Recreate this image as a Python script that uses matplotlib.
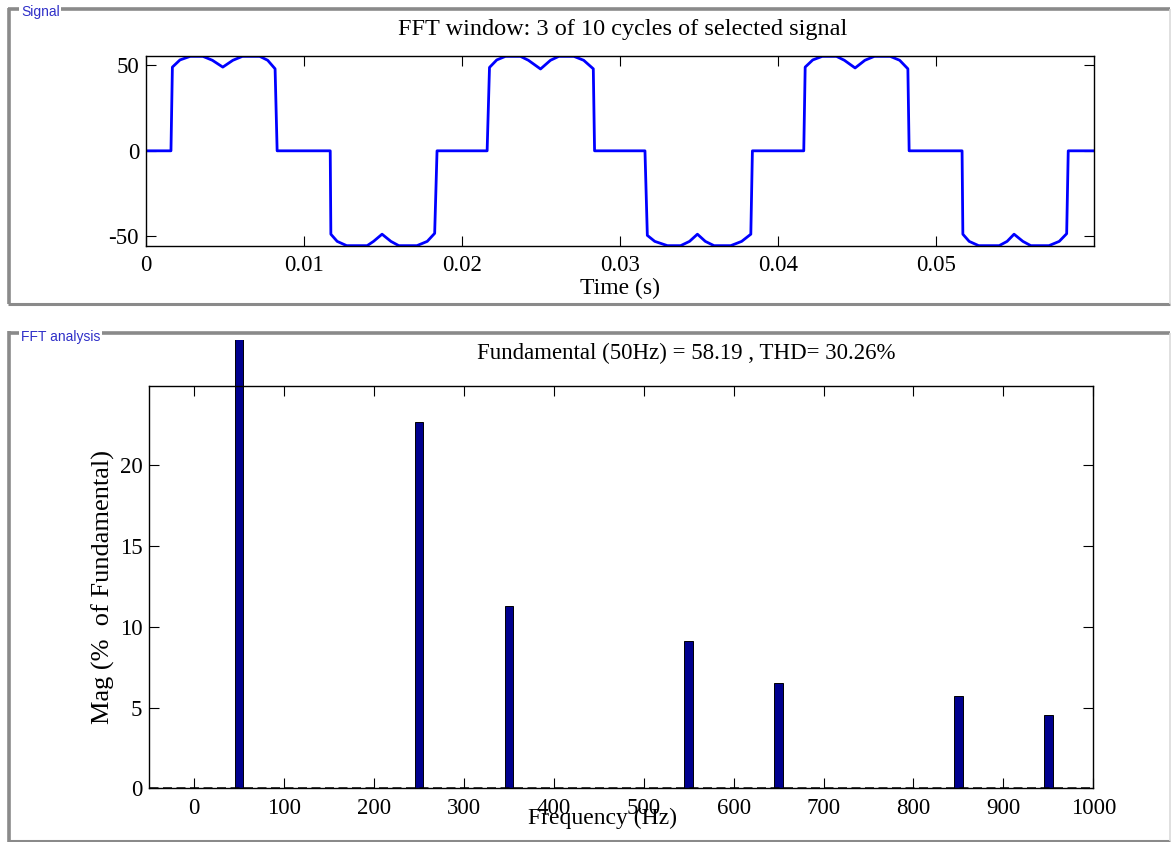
import numpy as np
import matplotlib.pyplot as plt
from matplotlib.lines import Line2D
from matplotlib.transforms import Bbox, TransformedBbox

plt.rcParams['font.family'] = ['Liberation Serif', 'DejaVu Serif']
plt.rcParams['axes.unicode_minus'] = False

# Signal: 3 cycles of the selected signal (s, V)
time_s = [
    0.0, 0.00158, 0.00167, 0.00215, 0.0028, 0.0036, 0.0042, 0.00486, 0.0055, 0.0061, 0.0072, 0.0077, 0.00817, 0.0083,
    0.01166, 0.0117, 0.0121, 0.0127, 0.0140, 0.0144, 0.01494, 0.0155, 0.0160, 0.01715, 0.0178, 0.01827, 0.01842,
    0.02159, 0.02174, 0.0222, 0.02275, 0.0237, 0.0242, 0.02497, 0.0256, 0.02613, 0.02708, 0.0277, 0.02831, 0.02839,
    0.03158, 0.03173, 0.0322, 0.0330, 0.03384, 0.0344, 0.0349, 0.0354, 0.03595, 0.03701, 0.0377, 0.03828, 0.03838,
    0.04163, 0.04172, 0.0422, 0.0428, 0.0437, 0.0442, 0.04488, 0.0455, 0.0461, 0.0471, 0.0477, 0.04822, 0.0483,
    0.05165, 0.0517, 0.0521, 0.0527, 0.0540, 0.0545, 0.05494, 0.0555, 0.0560, 0.05715, 0.0578, 0.05827, 0.05837,
    0.06,
]
signal_v = [
    0, 0, 49, 53.2, 55.3, 55.3, 53, 49, 53, 55.3, 55.3, 53, 48, 0,
    0, -48.8, -53, -55.5, -55.5, -53, -48.8, -53, -55.5, -55.5, -53, -48.3, 0,
    0, 48.8, 53.2, 55.3, 55.3, 53, 47.9, 53, 55.3, 55.3, 53, 48, 0,
    0, -49.5, -53, -55.5, -55.5, -53, -48.8, -53, -55.5, -55.5, -53, -48.8, 0,
    0, 49, 53.2, 55.3, 55.3, 53, 48.5, 53, 55.3, 55.3, 53, 48, 0,
    0, -48.8, -53, -55.5, -55.5, -53, -48.8, -53, -55.5, -55.5, -53, -48.5, 0,
    0,
]

# FFT analysis: harmonic magnitudes (% of fundamental)
harm_freq = [50, 250, 350, 550, 650, 850, 950]
harm_mag = [100, 22.7, 11.3, 9.1, 6.5, 5.7, 4.55]

sig_ticks = [0, 0.01, 0.02, 0.03, 0.04, 0.05]
freq_ticks = [0, 100, 200, 300, 400, 500, 600, 700, 800, 900, 1000]
mag_ticks = [0, 5, 10, 15, 20]

W, H = 1171, 842
fig = plt.figure(figsize=(W / 100, H / 100), dpi=100)


def fx(px):
    return px / W


def fy(py):
    return 1 - py / H


def frame_line(xs, ys, color, lw):
    fig.add_artist(Line2D([fx(x) for x in xs], [fy(y) for y in ys],
                          transform=fig.transFigure, color=color, lw=lw,
                          solid_capstyle='butt'))


# panel frames
dark = '#8a8a8a'
light = '#dadada'
for top, bot in [(9, 303.5), (332.5, 840.5)]:
    frame_line([8, 1170], [top, top], dark, 2.6)
    frame_line([8.5, 8.5], [top - 1, bot + 1], dark, 2.6)
    frame_line([8, 1170], [bot, bot], dark, 2.2)
    frame_line([1169.5, 1169.5], [top, bot], light, 1.2)

lab_kw = dict(fontfamily=['Liberation Sans', 'DejaVu Sans'], fontsize=10, color='#2f2fc8',
              ha='left', va='center', bbox=dict(facecolor='white', edgecolor='none', pad=1.2))
fig.text(fx(21), fy(12), 'Signal', **lab_kw)
fig.text(fx(21), fy(337), 'FFT analysis', **lab_kw)

# --- top: signal ---
ax1 = fig.add_axes([fx(146), fy(246.5), fx(1094) - fx(146), fy(56) - fy(246.5)])
ax1.plot(time_s, signal_v, color='#0000ff', lw=2.0)
ax1.set_xlim(0, 0.06)
ax1.set_ylim(-56, 55.5)
ax1.set_xticks(sig_ticks)
ax1.set_xticklabels(['0', '0.01', '0.02', '0.03', '0.04', '0.05'])
ax1.set_yticks([-50, 0, 50])
ax1.tick_params(direction='in', length=7, width=0.8, top=True, right=True, labelsize=16.5)
ax1.tick_params(axis='x', pad=6)
ax1.tick_params(axis='y', pad=5)
for s in ax1.spines.values():
    s.set_linewidth(1.0)
fig.text(fx(623), fy(30), 'FFT window: 3 of 10 cycles of selected signal',
         fontsize=17.5, ha='center', va='center')
fig.text(fx(620), fy(288), 'Time (s)', fontsize=17, ha='center', va='center')

# --- bottom: FFT ---
ax2 = fig.add_axes([fx(149.3), fy(788.3), fx(1093.3) - fx(149.3), fy(386) - fy(788.3)])
bars = ax2.bar(harm_freq, harm_mag, width=9.5, color='#00008e', edgecolor='black', lw=0.7, zorder=2)
# fundamental bar runs out of the axes up to the panel edge
bars[0].set_clip_box(TransformedBbox(Bbox([[0, 0], [1, fy(340)]]), fig.transFigure))
ax2.axhline(0, color='black', lw=1.8, ls=(0, (3.6, 1.8)), zorder=3)
ax2.set_xlim(-50, 1000)
ax2.set_ylim(0, 24.9)
ax2.set_xticks(freq_ticks)
ax2.set_yticks(mag_ticks)
ax2.tick_params(direction='in', length=7, width=0.8, top=True, right=True, labelsize=16.5)
ax2.tick_params(axis='x', pad=7)
ax2.tick_params(axis='y', pad=5)
for s in ax2.spines.values():
    s.set_linewidth(1.0)
fig.text(fx(686), fy(353), 'Fundamental (50Hz) = 58.19 , THD= 30.26%',
         fontsize=16.5, ha='center', va='center')
fig.text(fx(603), fy(818), 'Frequency (Hz)', fontsize=17, ha='center', va='center')
fig.text(fx(103), fy(587), 'Mag (%  of Fundamental)', fontsize=19, rotation=90,
         ha='center', va='center')

fig.savefig('out.png', dpi=100)
